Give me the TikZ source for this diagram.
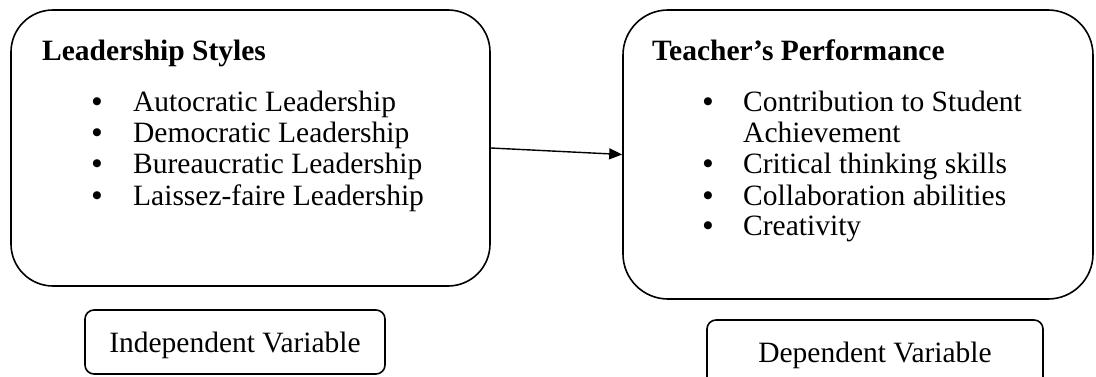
\documentclass[tikz,border=0pt]{standalone}
\usepackage{fontspec}
\setmainfont{Liberation Serif}
\usetikzlibrary{arrows.meta}
\tikzset{
  bigbox/.style={draw, line width=1.6pt, rounded corners=42pt, inner sep=0pt},
  varbox/.style={draw, line width=1.6pt, rounded corners=9pt, inner sep=0pt},
  txt/.style={anchor=base west, inner sep=0pt, font=\fontsize{29.5}{34}\selectfont},
  head/.style={txt, font=\fontsize{29.5}{34}\selectfont\bfseries},
  bul/.style={anchor=base, inner sep=0pt, font=\fontsize{29.5}{34}\selectfont\bfseries},
  conn/.style={line width=1.4pt, -{Triangle[length=13pt,width=11pt]}}
}
\begin{document}
\begin{tikzpicture}[x=1pt,y=-1pt]
\useasboundingbox (0,0) rectangle (1096,377);
% main boxes
\node[bigbox, minimum width=479pt, minimum height=276pt] (ls) at (250.5,148) {};
\node[bigbox, minimum width=470pt, minimum height=289pt, rounded corners=45pt] (tp) at (1093-235,154.5) {};
% left contents
\node[head] (lsh) at (42,61) {Leadership Styles};
\node[bul] (b1) at (97,112) {•};
\node[txt] (l1) at (133,112) {Autocratic Leadership};
\node[bul] (b2) at (97,143) {•};
\node[txt] (l2) at (133,143) {Democratic Leadership};
\node[bul] (b3) at (97,174) {•};
\node[txt] (l3) at (133,174) {Bureaucratic Leadership};
\node[bul] (b4) at (97,205) {•};
\node[txt] (l4) at (133,205) {Laissez-faire Leadership};
% right contents
\node[head] (tph) at (652,61) {Teacher’s Performance};
\node[bul] (c1) at (708,112) {•};
\node[txt] (r1) at (743,112) {Contribution to Student};
\node[txt] (r1b) at (743,143) {Achievement};
\node[bul] (c2) at (708,174) {•};
\node[txt] (r2) at (743,174) {Critical thinking skills};
\node[bul] (c3) at (708,205) {•};
\node[txt] (r3) at (743,205) {Collaboration abilities};
\node[bul] (c4) at (708,236) {•};
\node[txt] (r4) at (743,236) {Creativity};
% connector
\draw[conn] (ls.east) -- (tp.west);
% variable boxes
\node[varbox, minimum width=300pt, minimum height=64pt] (iv) at (235,342) {};
\node[txt, anchor=base] (ivt) at (235,352) {Independent Variable};
\node[varbox, minimum width=336pt, minimum height=80pt] (dv) at (875,360) {};
\node[txt, anchor=base] (dvt) at (875,362) {Dependent Variable};
\end{tikzpicture}
\end{document}
